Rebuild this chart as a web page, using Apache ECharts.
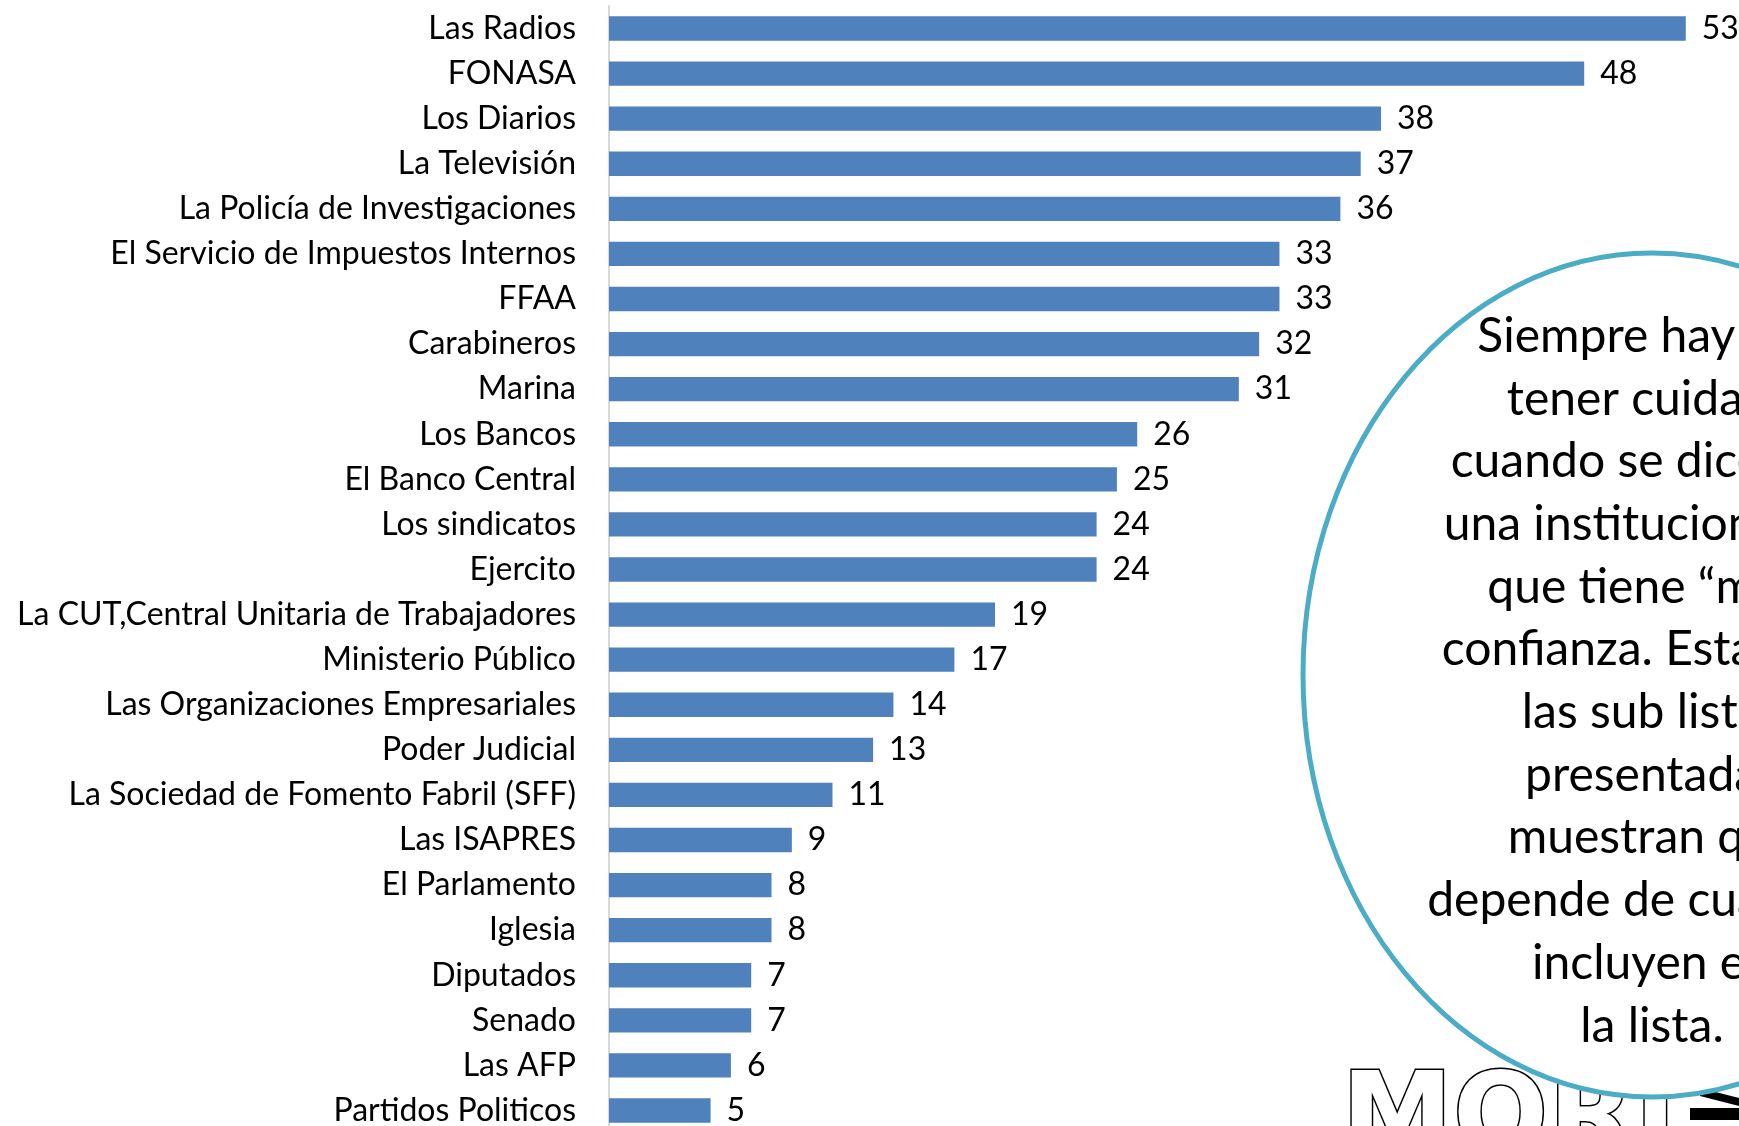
<!DOCTYPE html>
<html>
<head>
<meta charset="utf-8">
<script src="https://cdn.jsdelivr.net/npm/echarts@6/dist/echarts.min.js"></script>
<style>
html,body{margin:0;padding:0;background:#fff;}
#main{width:1739px;height:1126px;}
</style>
</head>
<body>
<div id="main"></div>
<script>
// categorias (de arriba hacia abajo)
var instituciones = ['Las Radios','FONASA','Los Diarios','La Televisión','La Policía de Investigaciones',
	'El Servicio de Impuestos Internos','FFAA','Carabineros','Marina','Los Bancos','El Banco Central',
	'Los sindicatos','Ejercito','La CUT,Central Unitaria de Trabajadores','Ministerio Público',
	'Las Organizaciones Empresariales','Poder Judicial','La Sociedad de Fomento Fabril (SFF)',
	'Las ISAPRES','El Parlamento','Iglesia','Diputados','Senado','Las AFP','Partidos Politicos'];
var confianza = [53,48,38,37,36,33,33,32,31,26,25,24,24,19,17,14,13,11,9,8,8,7,7,6,5];
// texto de la nota en el circulo
var nota = ['Siempre hay que','tener cuidado','cuando se dice que','una institucion es la',
	'que tiene “más”','confianza. Estas son','las sub listas','presentadas','muestran que',
	'depende de cuáles se','incluyen en','la lista.'];
var logo = 'MORI';

var myChart = echarts.init(document.getElementById('main'));
var option = {
	animation:false,
	backgroundColor:'#fff',
	grid:{left:609,top:6,width:1219,height:1127,outerBoundsMode:'none',containLabel:false},
	xAxis:{
		type:'value',
		min:0,
		max:60,
		show:false
	},
	yAxis:{
		type:'category',
		inverse:true,
		data:instituciones,
		axisTick:{show:false},
		axisLine:{lineStyle:{color:'#d9d9d9',width:2}},
		axisLabel:{
			color:'#000',
			fontFamily:'Lato',
			fontSize:32,
			margin:33
		}
	},
	series:[{
		type:'bar',
		data:confianza,
		barWidth:'54%',
		itemStyle:{color:'#4f81bd'},
		label:{
			show:true,
			position:'right',
			distance:16,
			color:'#000',
			fontFamily:'Lato',
			fontSize:32
		}
	}],
	graphic:[
		{
			type:'text',
			left:1340,
			top:1065,
			z:10,
			style:{
				text:logo,
				fontFamily:'DejaVu Sans',
				fontWeight:'bold',
				fontSize:112,
				fill:'#fff',
				stroke:'#000',
				lineWidth:3
			}
		},
		{
			type:'group',
			z:10,
			children:[
				{type:'polygon',shape:{points:[[1700,1088],[1739,1098],[1739,1106],[1700,1096]]},style:{fill:'#000'}},
				{type:'rect',shape:{x:1690,y:1108,width:49,height:12},style:{fill:'#000'}}
			]
		},
		{
			type:'ellipse',
			z:20,
			shape:{cx:1652,cy:675,rx:349,ry:422},
			style:{fill:'#fff',stroke:'#4bacc6',lineWidth:5}
		},
		{
			type:'text',
			z:30,
			x:1652,
			y:305,
			style:{
				text:nota.join('\n'),
				textAlign:'center',
				textVerticalAlign:'top',
				fontFamily:'Lato',
				fontSize:48,
				lineHeight:62.7,
				fill:'#000'
			}
		}
	]
};
myChart.setOption(option);
</script>
</body>
</html>
